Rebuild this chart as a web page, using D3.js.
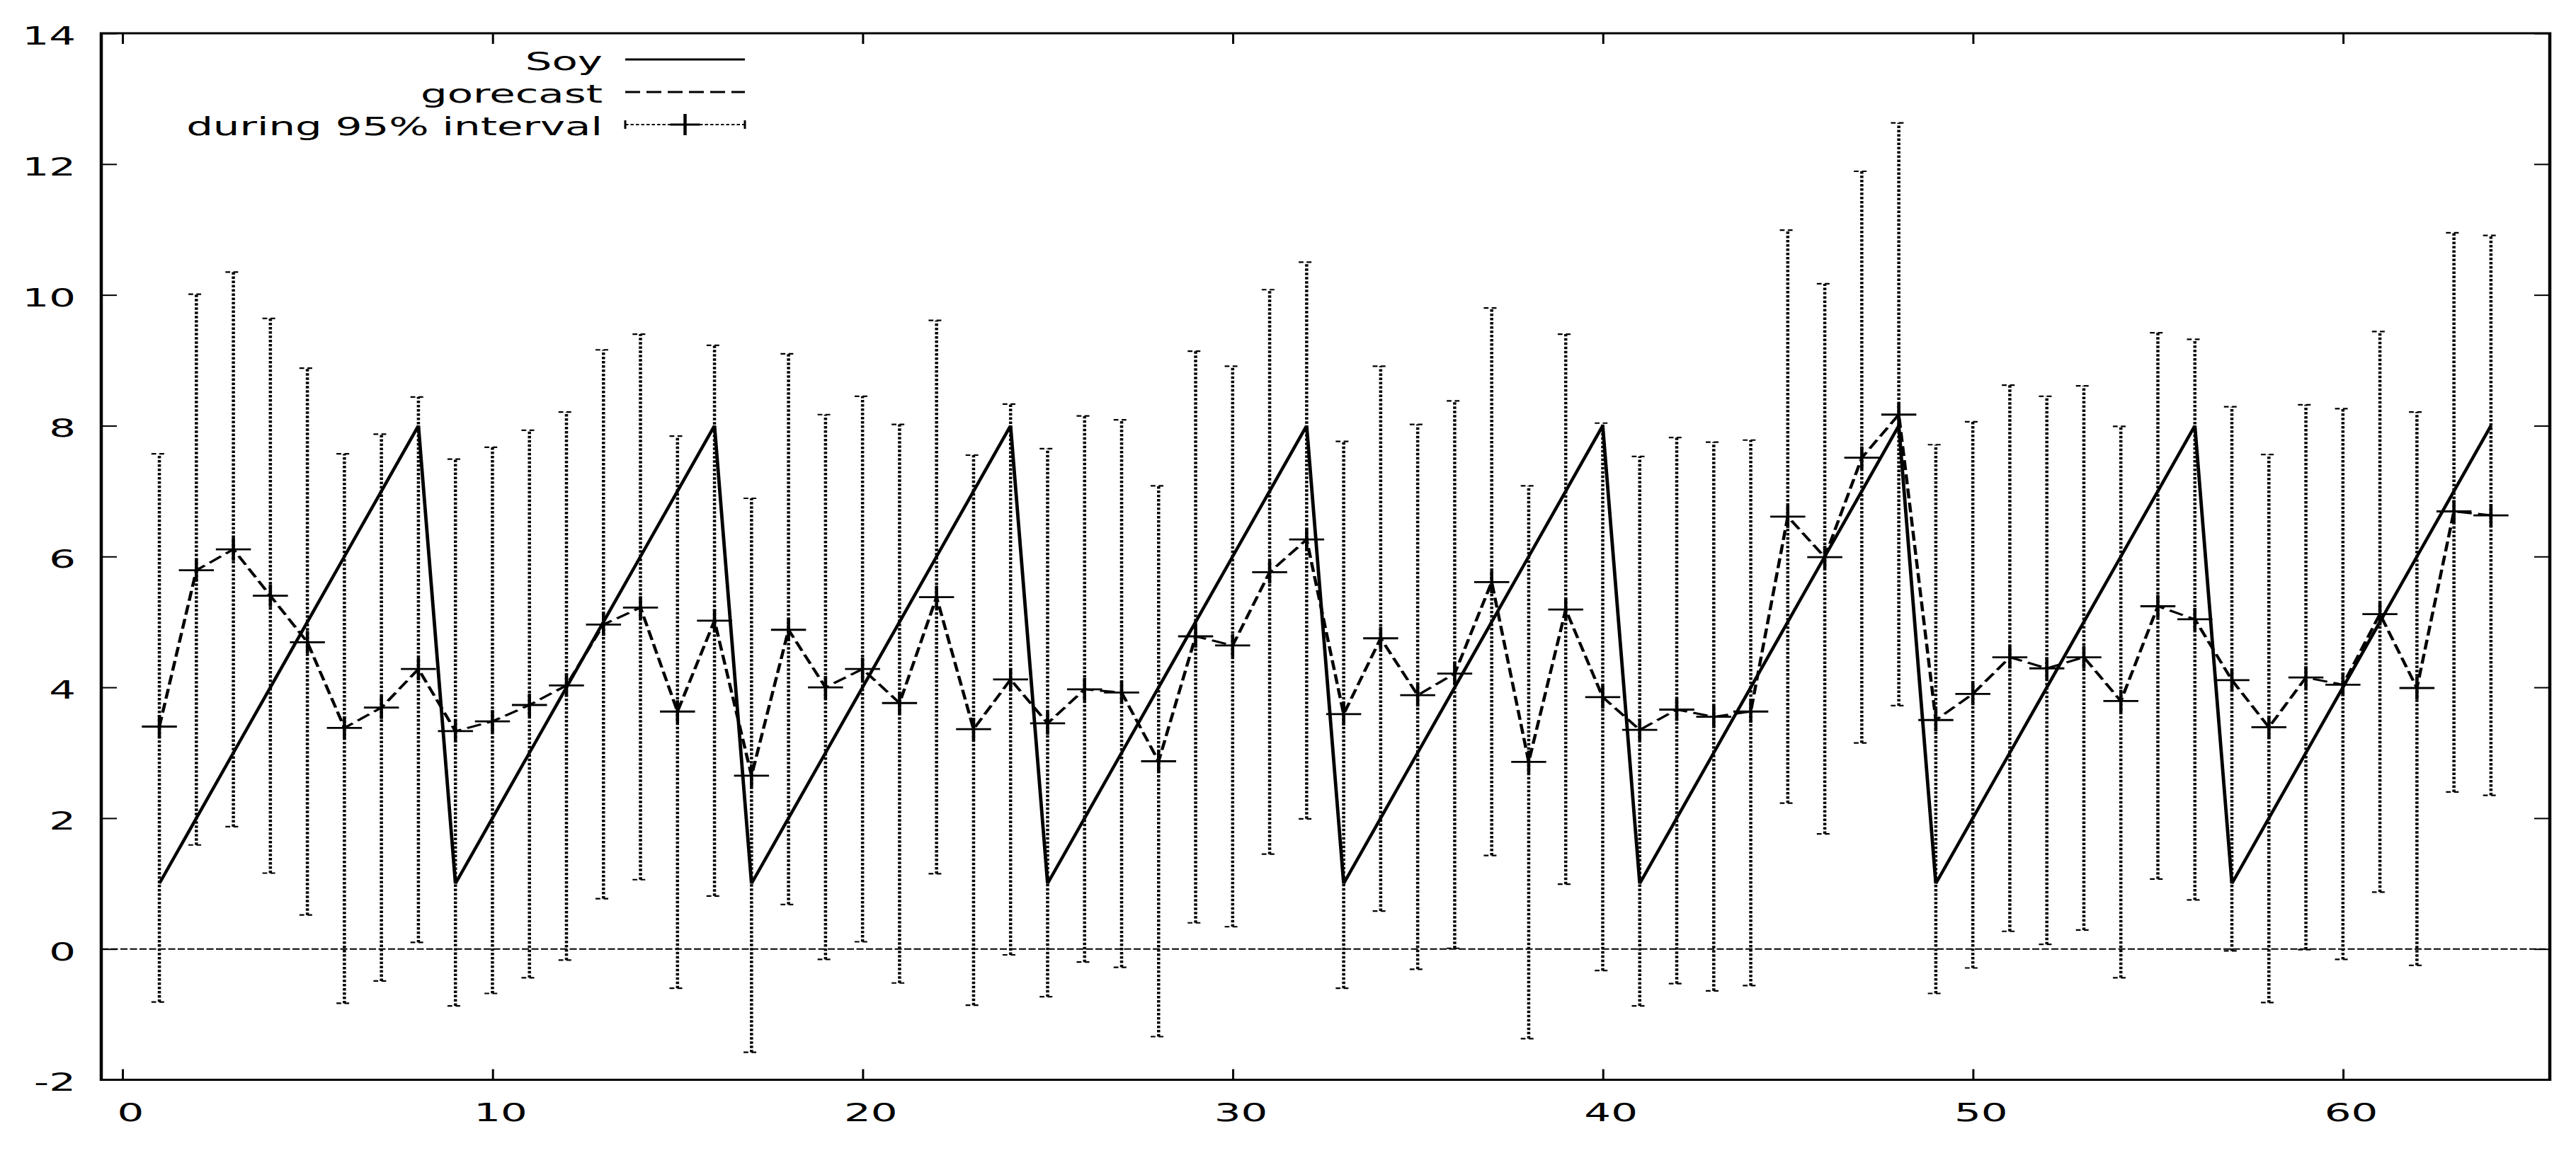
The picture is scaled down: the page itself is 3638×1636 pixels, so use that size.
<!DOCTYPE html>
<html>
<head>
<meta charset="utf-8">
<script src="https://cdn.jsdelivr.net/npm/d3@7"></script>
<style>
  html, body { margin: 0; padding: 0; background: #ffffff; }
  svg { display: block; }
</style>
</head>
<body>
<script>
// ---------------- data ----------------
const period = [1,2,3,4,5,6,7,8,9,10,11,12,13,14,15,16,17,18,19,20,21,22,23,24,25,26,27,28,29,30,31,32,
                33,34,35,36,37,38,39,40,41,42,43,44,45,46,47,48,49,50,51,52,53,54,55,56,57,58,59,60,61,62,63,64];
const soy = [1,2,3,4,5,6,7,8, 1,2,3,4,5,6,7,8, 1,2,3,4,5,6,7,8, 1,2,3,4,5,6,7,8,
             1,2,3,4,5,6,7,8, 1,2,3,4,5,6,7,8, 1,2,3,4,5,6,7,8, 1,2,3,4,5,6,7,8];
const forecast = [3.40,5.79,6.11,5.40,4.69,3.38,3.69,4.28, 3.33,3.48,3.73,4.03,4.96,5.22,3.63,5.02,
                  2.65,4.88,4.00,4.28,3.76,5.38,3.36,4.12, 3.45,3.97,3.92,2.87,4.78,4.64,5.76,6.26,
                  3.59,4.75,3.88,4.21,5.61,2.86,5.19,3.85, 3.35,3.66,3.55,3.63,6.61,5.99,7.51,8.17,
                  3.50,3.90,4.46,4.29,4.46,3.79,5.24,5.04, 4.11,3.39,4.15,4.04,5.12,3.99,6.69,6.63];
const lower = [-0.81,1.59,1.87,1.16,0.52,-0.83,-0.49,0.10, -0.87,-0.68,-0.44,-0.17,0.77,1.06,-0.60,0.81,
               -1.58,0.68,-0.16,0.11,-0.52,1.15,-0.86,-0.09, -0.73,-0.20,-0.28,-1.34,0.40,0.34,1.45,1.99,
               -0.60,0.58,-0.31,0.01,1.43,-1.37,0.99,-0.33, -0.87,-0.53,-0.64,-0.56,2.23,1.76,3.15,3.72,
               -0.68,-0.29,0.27,0.07,0.29,-0.44,1.07,0.75, -0.03,-0.82,-0.01,-0.16,0.87,-0.25,2.40,2.35];
const upper = [7.57,10.01,10.35,9.64,8.88,7.57,7.87,8.44, 7.49,7.67,7.93,8.21,9.16,9.40,7.84,9.23,
               6.89,9.10,8.17,8.45,8.02,9.61,7.55,8.33, 7.65,8.15,8.09,7.08,9.14,8.91,10.08,10.50,
               7.76,8.91,8.02,8.38,9.80,7.08,9.40,8.04, 7.53,7.82,7.75,7.78,10.99,10.17,11.89,12.63,
               7.71,8.06,8.62,8.45,8.61,7.99,9.42,9.32, 8.29,7.56,8.32,8.26,9.44,8.21,10.95,10.91];
const xTicks = [0,10,20,30,40,50,60];
const yTicks = [-2,0,2,4,6,8,10,12,14];
const legendLabels = ["Soy", "gorecast", "during 95% interval"];

// ---------------- layout ----------------
const W = 3638, H = 1636;
const S = 1.5;        // horizontal stretch of the whole drawing
const T = 1.1;        // extra horizontal stretch of the text
const FONT = "DejaVu Sans";
const FS = 36;

const svg = d3.select("body").append("svg")
  .attr("width", W).attr("height", H)
  .attr("viewBox", `0 0 ${W} ${H}`);
svg.append("rect").attr("width", W).attr("height", H).attr("fill", "#fff");

const g = svg.append("g").attr("transform", `scale(${S},1)`);

const x = d3.scaleLinear().domain([-0.57, 65.59]).range([143 / S, 3601 / S]);
const y = d3.scaleLinear().domain([-2, 14]).range([1525.5, 47]);
const [x0, x1] = x.range();
const [yb, yt] = y.range();

// zero axis
g.append("line")
  .attr("x1", x0).attr("x2", x1)
  .attr("y1", y(0)).attr("y2", y(0))
  .attr("stroke", "#000").attr("stroke-width", 2)
  .attr("stroke-dasharray", "6.7,2.3");

// error bars
const idx = d3.range(period.length);
g.append("g").selectAll("line").data(idx).join("line")
  .attr("x1", i => x(period[i])).attr("x2", i => x(period[i]))
  .attr("y1", i => y(lower[i])).attr("y2", i => y(upper[i]))
  .attr("stroke", "#000").attr("stroke-width", 3)
  .attr("stroke-dasharray", "3.5,2.5");
const caps = g.append("g");
[lower, upper].forEach(arr => {
  caps.append("g").selectAll("line").data(idx).join("line")
    .attr("x1", i => x(period[i]) - 7.5).attr("x2", i => x(period[i]) + 7.5)
    .attr("y1", i => y(arr[i])).attr("y2", i => y(arr[i]))
    .attr("stroke", "#000").attr("stroke-width", 2.2)
    .attr("stroke-dasharray", "4.5,3");
});

// Soy line
g.append("path")
  .datum(idx)
  .attr("d", d3.line().x(i => x(period[i])).y(i => y(soy[i])))
  .attr("fill", "none").attr("stroke", "#000").attr("stroke-width", 3.2)
  .attr("stroke-linejoin", "miter");

// forecast line
g.append("path")
  .datum(idx)
  .attr("d", d3.line().x(i => x(period[i])).y(i => y(forecast[i])))
  .attr("fill", "none").attr("stroke", "#000").attr("stroke-width", 3)
  .attr("stroke-dasharray", "14,6");

// crosses at the forecast points
const cross = g.append("g");
cross.selectAll("line.h").data(idx).join("line").attr("class", "h")
  .attr("x1", i => x(period[i]) - 16.5).attr("x2", i => x(period[i]) + 16.5)
  .attr("y1", i => y(forecast[i])).attr("y2", i => y(forecast[i]))
  .attr("stroke", "#000").attr("stroke-width", 2.8);
cross.selectAll("line.v").data(idx).join("line").attr("class", "v")
  .attr("x1", i => x(period[i])).attr("x2", i => x(period[i]))
  .attr("y1", i => y(forecast[i]) - 16).attr("y2", i => y(forecast[i]) + 16)
  .attr("stroke", "#000").attr("stroke-width", 3);

// ---------------- axes ----------------
function styleAxis(sel) {
  sel.attr("font-family", FONT).attr("font-size", FS);
  sel.select(".domain").remove();
  sel.selectAll(".tick line").attr("stroke", "#000").attr("stroke-width", 2);
  sel.selectAll(".tick text").attr("fill", "#000");
}
const axL = g.append("g").attr("transform", `translate(${x0},0)`)
  .call(d3.axisLeft(y).tickValues(yTicks).tickSizeInner(-14.7).tickSizeOuter(0)
        .tickPadding(21.8).tickFormat(d => String(d)));
styleAxis(axL);
axL.selectAll(".tick text").attr("dy", "0.43em").attr("transform", `scale(${T},1)`);

const axR = g.append("g").attr("transform", `translate(${x1},0)`)
  .call(d3.axisRight(y).tickValues(yTicks).tickSizeInner(-14.7).tickSizeOuter(0).tickFormat(""));
styleAxis(axR);

const axT = g.append("g").attr("transform", `translate(0,${yt})`)
  .call(d3.axisTop(x).tickValues(xTicks).tickSizeInner(-15).tickSizeOuter(0).tickFormat(""));
styleAxis(axT);

const axB = g.append("g").attr("transform", `translate(0,${yb})`)
  .call(d3.axisBottom(x).tickValues(xTicks).tickSizeInner(-15).tickSizeOuter(0)
        .tickPadding(33).tickFormat(d => String(d)));
styleAxis(axB);
axB.selectAll(".tick text").attr("x", 6.6).attr("transform", `scale(${T},1)`);

// border
g.append("rect")
  .attr("x", x0).attr("y", yt).attr("width", x1 - x0).attr("height", yb - yt)
  .attr("fill", "none").attr("stroke", "#000").attr("stroke-width", 3);

// ---------------- legend ----------------
const legRows = [84, 130, 176];
const lgX0 = 883 / S, lgX1 = 1052 / S, lgText = 851 / S;
const leg = g.append("g");
legendLabels.forEach((lab, k) => {
  leg.append("g").attr("transform", `translate(${lgText},${legRows[k] + 15})`)
    .append("text").attr("transform", `scale(${T},1)`)
    .attr("text-anchor", "end")
    .attr("font-family", FONT).attr("font-size", FS).attr("fill", "#000")
    .text(lab);
});
leg.append("line").attr("x1", lgX0).attr("x2", lgX1).attr("y1", legRows[0]).attr("y2", legRows[0])
  .attr("stroke", "#000").attr("stroke-width", 3.2);
leg.append("line").attr("x1", lgX0).attr("x2", lgX1).attr("y1", legRows[1]).attr("y2", legRows[1])
  .attr("stroke", "#000").attr("stroke-width", 3).attr("stroke-dasharray", "14,6");
leg.append("line").attr("x1", lgX0).attr("x2", lgX1).attr("y1", legRows[2]).attr("y2", legRows[2])
  .attr("stroke", "#000").attr("stroke-width", 2).attr("stroke-dasharray", "3,2");
[lgX0, lgX1].forEach(xx => {
  leg.append("line").attr("x1", xx).attr("x2", xx).attr("y1", legRows[2] - 6).attr("y2", legRows[2] + 6)
    .attr("stroke", "#000").attr("stroke-width", 2);
});
const lgMid = (lgX0 + lgX1) / 2;
leg.append("line").attr("x1", lgMid - 14).attr("x2", lgMid + 14).attr("y1", legRows[2]).attr("y2", legRows[2])
  .attr("stroke", "#000").attr("stroke-width", 2.8);
leg.append("line").attr("x1", lgMid).attr("x2", lgMid).attr("y1", legRows[2] - 15).attr("y2", legRows[2] + 15)
  .attr("stroke", "#000").attr("stroke-width", 3);
</script>
</body>
</html>
